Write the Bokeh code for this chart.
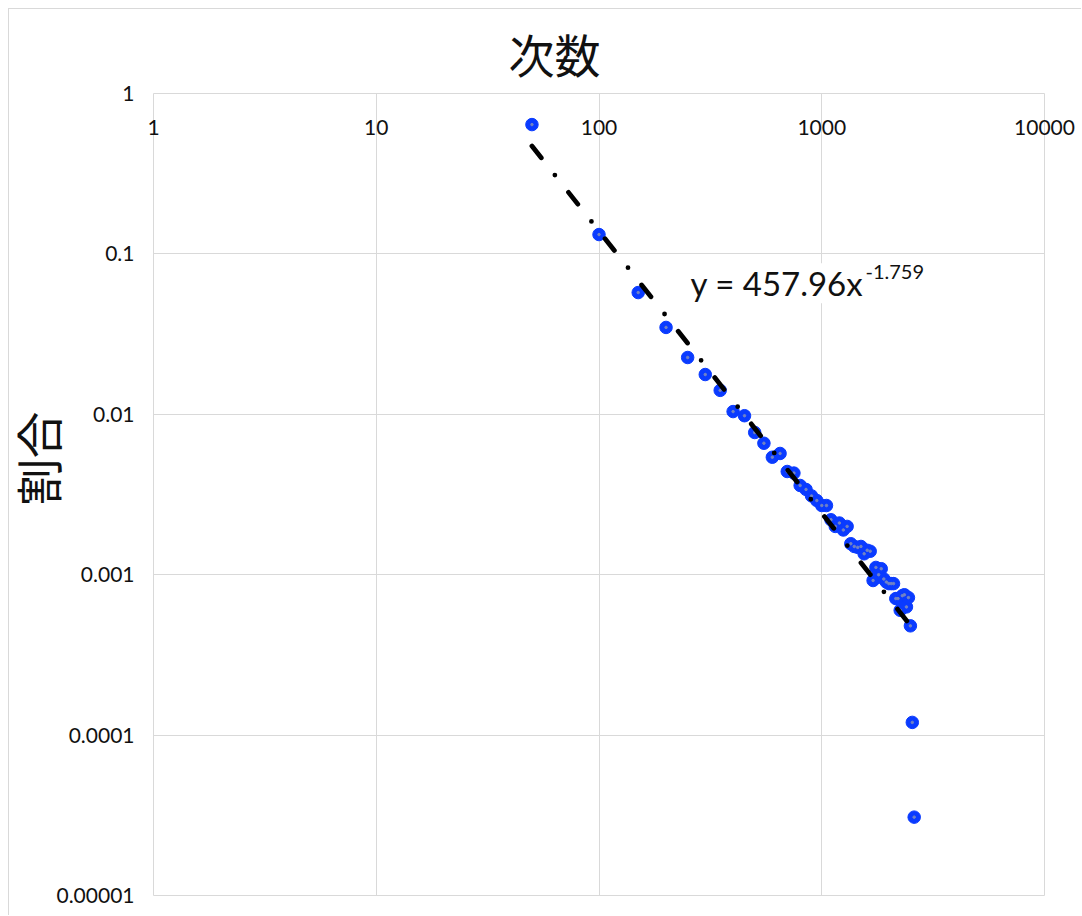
from bokeh.plotting import figure
from bokeh.models import FixedTicker, CustomJSTickFormatter, Label, Range1d, Title
from bokeh.embed import file_html
from bokeh.resources import INLINE

# ---- data ----
counts = [50, 100, 150, 200, 250, 300, 350, 400, 450, 500,
          550, 600, 650, 700, 750, 800, 850, 900, 950, 1000,
          1050, 1100, 1150, 1200, 1250, 1300, 1350, 1400, 1450, 1500,
          1550, 1600, 1650, 1700, 1750, 1800, 1850, 1900, 1950, 2000,
          2050, 2100, 2150, 2200, 2250, 2300, 2350, 2400, 2450, 2500,
          2550, 2600]
shares = [0.64, 0.132, 0.0574, 0.0348, 0.0226, 0.0177, 0.0141, 0.0104, 0.0098, 0.0077,
          0.0066, 0.0054, 0.0057, 0.0044, 0.0043, 0.0036, 0.0034, 0.0031, 0.0029, 0.0027,
          0.0027, 0.0022, 0.0020, 0.0021, 0.0019, 0.0020, 0.00156, 0.00150, 0.00148, 0.00150,
          0.00135, 0.00142, 0.00140, 0.00092, 0.00111, 0.00100, 0.00109, 0.00094, 0.00090, 0.00088,
          0.00088, 0.00088, 0.00071, 0.00071, 0.00060, 0.00074, 0.00075, 0.00063, 0.00072, 0.00048,
          0.00012, 0.0000308]
x_ticks = [1, 10, 100, 1000, 10000]
y_ticks = [0.00001, 0.0001, 0.001, 0.01, 0.1, 1]
trend_coef = 457.96
trend_exp = -1.759
title_text = "次数"
ylabel_text = "割合"
eq_text = "y = 457.96x"
eq_sup = "-1.759"

NUM_FONT = "Lato"
CJK_FONT = "Noto Sans CJK JP"
GRID = "#d9d9d9"
TXT = "#111111"

p = figure(width=1073, height=907, x_axis_type="log", y_axis_type="log",
           x_range=Range1d(1, 10000), y_range=Range1d(0.00001, 1),
           x_axis_location="above", output_backend="svg", toolbar_location=None,
           min_border_left=144, min_border_top=84, min_border_right=38,
           min_border_bottom=21,
           styles={"margin-left": "8px", "margin-top": "8px",
                   "border-left": "1px solid #d9d9d9",
                   "border-top": "1px solid #d9d9d9"})

p.outline_line_color = GRID
p.background_fill_color = "white"
p.border_fill_color = "white"

p.xgrid.ticker = FixedTicker(ticks=x_ticks)
p.ygrid.ticker = FixedTicker(ticks=y_ticks)
for g in (p.xgrid, p.ygrid):
    g.grid_line_color = GRID
    g.grid_line_width = 1
    g.minor_grid_line_color = None

fmt = "return tick.toString();"
for ax, ticks in ((p.xaxis, x_ticks), (p.yaxis, y_ticks)):
    ax.ticker = FixedTicker(ticks=ticks)
    ax.formatter = CustomJSTickFormatter(code=fmt)
    ax.axis_line_color = None
    ax.major_tick_line_color = None
    ax.minor_tick_line_color = None
    ax.major_tick_out = 0
    ax.major_tick_in = 0
    ax.major_label_text_font = NUM_FONT
    ax.major_label_text_font_size = "21px"
    ax.major_label_text_color = TXT

# x labels hang just below the top edge, like Excel's axis crossing at y = 1
p.xaxis.major_label_standoff = -41
p.yaxis.major_label_standoff = 19

# points
p.scatter(counts, shares, size=12.5, color="#0A3BFF")
p.scatter(counts, shares, size=2.5, color="#7384c4")

# power trendline (straight on log-log)
tx = [min(counts), max(counts)]
ty = [trend_coef * v ** trend_exp for v in tx]
p.line(tx, ty, line_color="black", line_width=4.8, line_dash="15 22 0 22",
       line_cap="round")

# chart title
p.title.text = title_text
p.title.align = "left"
p.title.offset = 355
p.title.standoff = 16
p.title.text_font = CJK_FONT
p.title.text_font_size = "46px"
p.title.text_font_style = "normal"
p.title.text_color = TXT

# y axis title
p.add_layout(Title(text=ylabel_text, align="left", offset=390, standoff=-35,
                   text_font=CJK_FONT, text_font_size="47px",
                   text_font_style="normal", text_color=TXT), "left")

# trendline equation
EQ_X, EQ_Y = 257.5, 0.0655
p.add_layout(Label(x=EQ_X, y=EQ_Y, text=eq_text, text_align="left",
                   text_baseline="alphabetic", text_font=NUM_FONT,
                   text_font_size="33px", text_color=TXT,
                   background_fill_color="white"))
p.add_layout(Label(x=EQ_X, y=EQ_Y, x_offset=175, y_offset=11, text=eq_sup,
                   text_align="left", text_baseline="alphabetic",
                   text_font=NUM_FONT, text_font_size="20px",
                   text_color=TXT))

open("out.html", "w").write(file_html(p, INLINE))
